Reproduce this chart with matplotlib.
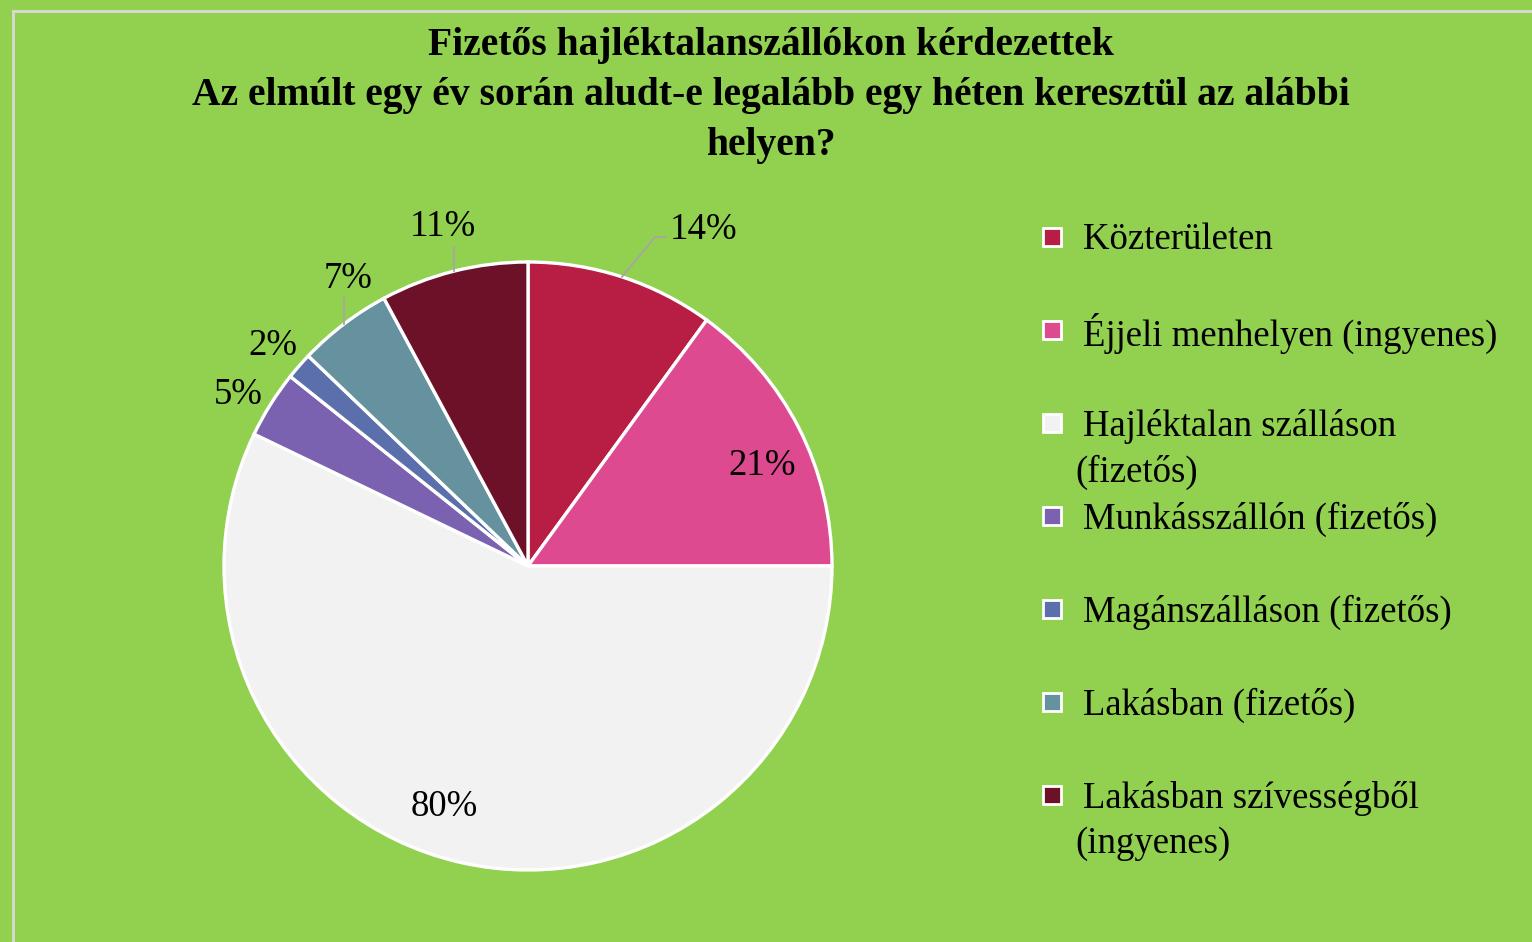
import matplotlib.pyplot as plt
import numpy as np

# slice data (percent of respondents, multiple answers allowed)
categories = ['Közterületen', 'Éjjeli menhelyen (ingyenes)', 'Hajléktalan szálláson\n(fizetős)',
              'Munkásszállón (fizetős)', 'Magánszálláson (fizetős)', 'Lakásban (fizetős)',
              'Lakásban szívességből\n(ingyenes)']
values = [14, 21, 80, 5, 2, 7, 11]
colors = ['#b81d44', '#dd4a8f', '#f2f2f2', '#7b62b0', '#5a6fab', '#66929f', '#6d1129']
title_lines = ['Fizetős hajléktalanszállókon kérdezettek',
               'Az elmúlt egy év során aludt-e legalább egy héten keresztül az alábbi',
               'helyen?']

# label positions in pie-axes units (radius = 1)
label_pos = [(0.576, 1.105), (0.770, 0.329), (-0.276, -0.793), (-0.954, 0.562),
             (-0.839, 0.724), (-0.592, 0.944), (-0.280, 1.115)]

W, H = 1532, 942
BG = '#92d050'
FONT = ['Liberation Serif', 'DejaVu Serif']
FS = 26.5
FS_TITLE = 28.5

fig = plt.figure(figsize=(W / 100, H / 100), dpi=100, facecolor=BG)

# overlay in pixel coordinates for title, legend and frame
over = fig.add_axes([0, 0, 1, 1])
over.set_xlim(0, W)
over.set_ylim(H, 0)
over.axis('off')
over.plot([13, 13], [11, H], color='#d9d9d9', lw=2)
over.plot([13, W], [11, 11], color='#d9d9d9', lw=2)

for i, line in enumerate(title_lines):
    over.text(771, 45 + i * 50.5, line, ha='center', va='center', fontsize=FS_TITLE,
              fontweight='bold', family=FONT)

# pie
cx, cy, r = 528, 566, 304
ax = fig.add_axes([(cx - r) / W, (H - cy - r) / H, 2 * r / W, 2 * r / H])
ax.pie(values, colors=colors, startangle=90, counterclock=False, radius=1,
       wedgeprops=dict(edgecolor='white', linewidth=2.4))
ax.set_xlim(-1, 1)
ax.set_ylim(-1, 1)
ax.set_aspect('equal')
ax.axis('off')

total = sum(values)
start = 90.0
mids = []
for v in values:
    ang = 360.0 * v / total
    mids.append(np.deg2rad(start - ang / 2))
    start -= ang

for v, (lx, ly) in zip(values, label_pos):
    ax.text(lx, ly, f'{v}%', ha='center', va='center', fontsize=FS, family=FONT,
            clip_on=False)

lead = '#a6a6a6'
# 14% leader with elbow
m = mids[0]
ax.plot([np.cos(m), 0.418, 0.451], [np.sin(m), 1.082, 1.082], color=lead, lw=1.3, clip_on=False)
# 7% and 11% vertical leaders
for idx, top in [(5, 0.882), (6, 1.049)]:
    m = mids[idx]
    ax.plot([np.cos(m), np.cos(m)], [np.sin(m), top], color=lead, lw=1.3, clip_on=False)

# legend
ys = [237, 330, 423, 516, 609, 702, 795]
for lab, col, y in zip(categories, colors, ys):
    over.add_patch(plt.Rectangle((1043, y - 9), 18, 18, facecolor=col, edgecolor='white', lw=2))
    parts = lab.split('\n')
    over.text(1083, y + 3, parts[0], ha='left', va='center', fontsize=FS, family=FONT)
    for j, p in enumerate(parts[1:], start=1):
        over.text(1075, y + 3 + 46 * j, p, ha='left', va='center', fontsize=FS, family=FONT)

fig.savefig('out.png', dpi=100, facecolor=BG)
